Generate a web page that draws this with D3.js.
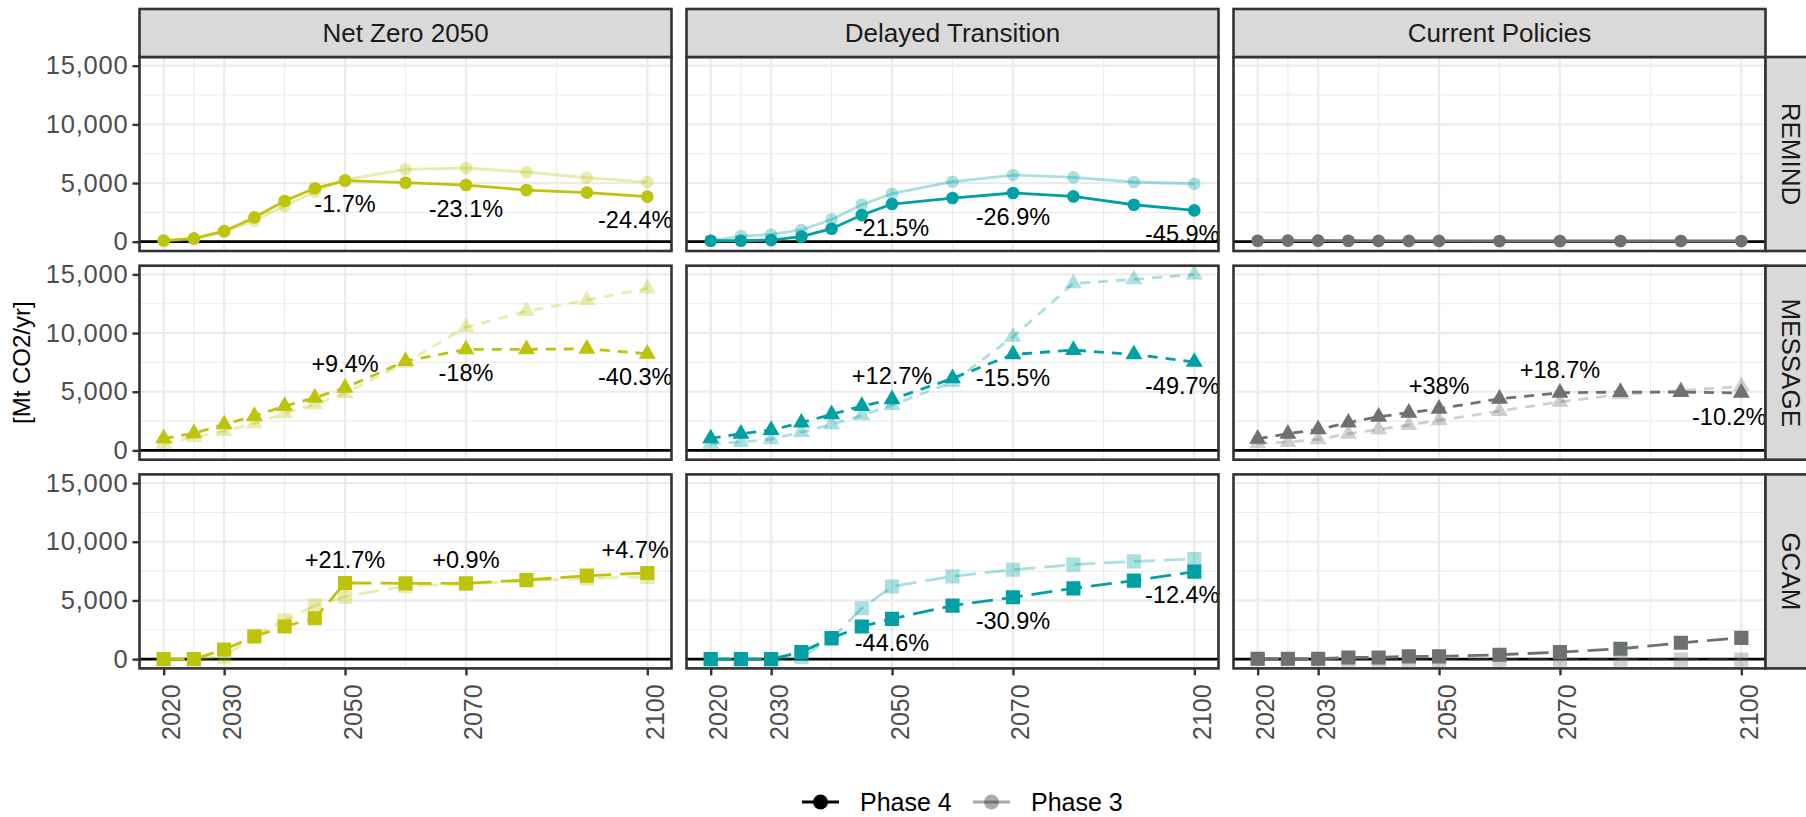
<!DOCTYPE html>
<html>
<head>
<meta charset="utf-8">
<script src="https://cdn.jsdelivr.net/npm/d3@7"></script>
<style>
  body { margin: 0; background: #fff; }
  svg { display: block; font-family: "Liberation Sans", Arial, Helvetica, sans-serif; }
</style>
</head>
<body>
<div id="chart"></div>
<script>
// ---- data ----
var years = [2020, 2025, 2030, 2035, 2040, 2045, 2050, 2060, 2070, 2080, 2090, 2100];
var scenarios = ["Net Zero 2050", "Delayed Transition", "Current Policies"];
var models = ["REMIND", "MESSAGE", "GCAM"];
var xTicks = [2020, 2030, 2050, 2070, 2100];
var yTicks = [0, 5000, 10000, 15000];
var labelYears = [2050, 2070, 2100];

// REMIND
var remindNZ4 = [100, 280, 900, 2070, 3470, 4550, 5200, 5030, 4830, 4400, 4180, 3840];
var remindNZ3 = [50, 200, 850, 1800, 3040, 4260, 5290, 6160, 6280, 5940, 5450, 5080];
var remindDT4 = [80, 80, 140, 430, 1110, 2270, 3210, 3720, 4150, 3860, 3150, 2670];
var remindDT3 = [80, 480, 620, 1000, 1900, 3150, 4090, 5110, 5680, 5480, 5090, 4940];
var remindCP4 = [80, 90, 90, 80, 70, 70, 70, 60, 60, 60, 60, 60];
var remindCP3 = [60, 70, 70, 60, 60, 50, 50, 50, 50, 50, 50, 50];
// MESSAGE
var messageNZ4 = [1020, 1450, 2220, 2930, 3780, 4490, 5340, 7610, 8610, 8610, 8660, 8240];
var messageNZ3 = [570, 1140, 1650, 2300, 3150, 3920, 4880, 7470, 10500, 11870, 12800, 13800];
var messageDT4 = [1020, 1420, 1730, 2360, 3070, 3780, 4350, 6140, 8180, 8550, 8180, 7540];
var messageDT3 = [570, 710, 940, 1560, 2220, 2980, 3860, 5820, 9680, 14230, 14570, 14990];
var messageCP4 = [990, 1420, 1790, 2360, 2870, 3210, 3550, 4400, 4910, 4970, 4970, 4900];
var messageCP3 = [600, 710, 940, 1420, 1790, 2160, 2570, 3350, 4140, 4770, 5100, 5450];
// GCAM
var gcamNZ4 = [0, 0, 820, 1930, 2780, 3480, 6490, 6460, 6460, 6740, 7110, 7340];
var gcamNZ3 = [0, 0, 200, 2000, 3280, 4560, 5330, 6230, 6400, 6680, 6880, 7010];
var gcamDT4 = [0, 0, 0, 600, 1790, 2780, 3430, 4560, 5270, 6030, 6690, 7450];
var gcamDT3 = [0, 0, 0, 170, 1730, 4330, 6190, 7050, 7620, 8050, 8330, 8530];
var gcamCP4 = [30, 30, 30, 140, 140, 230, 230, 370, 600, 880, 1390, 1810];
var gcamCP3 = [0, -20, -30, -40, -40, -40, -40, -40, -40, -40, -40, -40];

// change labels (Phase 4 vs Phase 3) at labelYears
var pctRemindNZ = ["-1.7%", "-23.1%", "-24.4%"];
var pctRemindDT = ["-21.5%", "-26.9%", "-45.9%"];
var pctMessageNZ = ["+9.4%", "-18%", "-40.3%"];
var pctMessageDT = ["+12.7%", "-15.5%", "-49.7%"];
var pctMessageCP = ["+38%", "+18.7%", "-10.2%"];
var pctGcamNZ = ["+21.7%", "+0.9%", "+4.7%"];
var pctGcamDT = ["-44.6%", "-30.9%", "-12.4%"];

var table = [
  {model: "REMIND", scen: "Net Zero 2050", p4: remindNZ4, p3: remindNZ3, pct: pctRemindNZ},
  {model: "REMIND", scen: "Delayed Transition", p4: remindDT4, p3: remindDT3, pct: pctRemindDT},
  {model: "REMIND", scen: "Current Policies", p4: remindCP4, p3: remindCP3, pct: []},
  {model: "MESSAGE", scen: "Net Zero 2050", p4: messageNZ4, p3: messageNZ3, pct: pctMessageNZ},
  {model: "MESSAGE", scen: "Delayed Transition", p4: messageDT4, p3: messageDT3, pct: pctMessageDT},
  {model: "MESSAGE", scen: "Current Policies", p4: messageCP4, p3: messageCP3, pct: pctMessageCP},
  {model: "GCAM", scen: "Net Zero 2050", p4: gcamNZ4, p3: gcamNZ3, pct: pctGcamNZ},
  {model: "GCAM", scen: "Delayed Transition", p4: gcamDT4, p3: gcamDT3, pct: pctGcamDT},
  {model: "GCAM", scen: "Current Policies", p4: gcamCP4, p3: gcamCP3, pct: []}
];

// ---- layout / styles ----
var W = 1806, H = 817;
var panelLeft = 139.5, colStep = 547, panelW = 532;
var panelTop = 57, rowStep = 208.7, panelH = 194;
var stripH = 48;
var scenColor = {"Net Zero 2050": "#BDC40B", "Delayed Transition": "#00A0A5", "Current Policies": "#6D7172"};
var modelDash = {"REMIND": null, "MESSAGE": "10,8", "GCAM": "21,9"};
var modelSymbol = {"REMIND": d3.symbolCircle, "MESSAGE": d3.symbolTriangle, "GCAM": d3.symbolSquare};
var modelSymbolSize = {"REMIND": 125, "MESSAGE": 125, "GCAM": 200};
var p3Opacity = 0.33;
var labelNudgeY = 2000;

function expand(e) { var r = e[1] - e[0]; return [e[0] - 0.05 * r, e[1] + 0.05 * r]; }

var svg = d3.select("#chart")
  .append("svg")
  .attr("width", W)
  .attr("height", H);

var xScale = d3.scaleLinear()
  .domain(expand(d3.extent(years)))
  .range([0, panelW]);

var allValues = d3.merge(table.map(function(d) { return d.p4.concat(d.p3); }));
var yScale = d3.scaleLinear()
  .domain(expand(d3.extent(allValues)))
  .range([panelH, 0]);

var xMinor = d3.pairs(xTicks).map(function(p) { return (p[0] + p[1]) / 2; });
var yMinor = d3.pairs(yTicks).map(function(p) { return (p[0] + p[1]) / 2; });

var line = d3.line()
  .x(function(d) { return xScale(d.year); })
  .y(function(d) { return yScale(d.v); });

function toPoints(arr) { return years.map(function(y, i) { return {year: y, v: arr[i]}; }); }

table.forEach(function(d, k) {
  var col = scenarios.indexOf(d.scen);
  var row = models.indexOf(d.model);
  var px = panelLeft + col * colStep;
  var py = panelTop + row * rowStep;
  var color = scenColor[d.scen];
  var g = svg.append("g").attr("transform", "translate(" + px + "," + py + ")");

  g.append("clipPath").attr("id", "clip" + k)
    .append("rect").attr("width", panelW).attr("height", panelH);
  var inner = g.append("g").attr("clip-path", "url(#clip" + k + ")");

  inner.append("rect").attr("width", panelW).attr("height", panelH).attr("fill", "#fff");

  // grid
  inner.selectAll(".vminor").data(xMinor).enter().append("line")
    .attr("x1", xScale).attr("x2", xScale).attr("y1", 0).attr("y2", panelH)
    .attr("stroke", "#EBEBEB").attr("stroke-width", 1.1);
  inner.selectAll(".hminor").data(yMinor).enter().append("line")
    .attr("y1", yScale).attr("y2", yScale).attr("x1", 0).attr("x2", panelW)
    .attr("stroke", "#EBEBEB").attr("stroke-width", 1.1);
  inner.selectAll(".vmajor").data(xTicks).enter().append("line")
    .attr("x1", xScale).attr("x2", xScale).attr("y1", 0).attr("y2", panelH)
    .attr("stroke", "#EBEBEB").attr("stroke-width", 2.2);
  inner.selectAll(".hmajor").data(yTicks).enter().append("line")
    .attr("y1", yScale).attr("y2", yScale).attr("x1", 0).attr("x2", panelW)
    .attr("stroke", "#EBEBEB").attr("stroke-width", 2.2);

  // zero line
  inner.append("line")
    .attr("x1", 0).attr("x2", panelW)
    .attr("y1", yScale(0)).attr("y2", yScale(0))
    .attr("stroke", "#000").attr("stroke-width", 2.7);

  var sym = d3.symbol().type(modelSymbol[d.model]).size(modelSymbolSize[d.model]);

  [{vals: d.p3, op: p3Opacity}, {vals: d.p4, op: 1}].forEach(function(s) {
    var pts = toPoints(s.vals);
    inner.append("path")
      .attr("d", line(pts))
      .attr("fill", "none")
      .attr("stroke", color)
      .attr("stroke-width", 2.8)
      .attr("stroke-dasharray", modelDash[d.model])
      .attr("opacity", s.op);
    inner.selectAll(null).data(pts).enter().append("path")
      .attr("d", sym)
      .attr("transform", function(p) { return "translate(" + xScale(p.year) + "," + yScale(p.v) + ")"; })
      .attr("fill", color)
      .attr("opacity", s.op);
  });

  // change labels
  d.pct.forEach(function(txt, i) {
    var yr = labelYears[i];
    var v = d.p4[years.indexOf(yr)];
    var sign = txt.charAt(0) === "+" ? 1 : -1;
    var lx = yr === 2100 ? yr - 2 : yr;
    inner.append("text")
      .attr("x", xScale(lx))
      .attr("y", yScale(v + sign * labelNudgeY))
      .attr("dy", "0.35em")
      .attr("text-anchor", "middle")
      .style("font-size", "23.5px")
      .attr("fill", "#000")
      .text(txt);
  });

  // border
  g.append("rect").attr("width", panelW).attr("height", panelH)
    .attr("fill", "none").attr("stroke", "#333").attr("stroke-width", 2.6);

  // top strip
  if (row === 0) {
    var st = svg.append("g").attr("transform", "translate(" + px + "," + (panelTop - stripH) + ")");
    st.append("rect").attr("width", panelW).attr("height", stripH)
      .attr("fill", "#D9D9D9").attr("stroke", "#333").attr("stroke-width", 2.6);
    st.append("text").attr("x", panelW / 2).attr("y", stripH / 2).attr("dy", "0.35em")
      .attr("text-anchor", "middle").style("font-size", "26px").attr("fill", "#1A1A1A")
      .text(d.scen);
  }
  // right strip
  if (col === scenarios.length - 1) {
    var sr = svg.append("g").attr("transform", "translate(" + (px + panelW) + "," + py + ")");
    sr.append("rect").attr("width", stripH).attr("height", panelH)
      .attr("fill", "#D9D9D9").attr("stroke", "#333").attr("stroke-width", 2.6);
    sr.append("text")
      .attr("transform", "translate(" + (stripH / 2 + 2) + "," + (panelH / 2) + ") rotate(90)")
      .attr("dy", "0.35em")
      .attr("text-anchor", "middle").style("font-size", "26px").attr("fill", "#1A1A1A")
      .text(d.model);
  }

  // y axis
  if (col === 0) {
    var ya = g.append("g")
      .call(d3.axisLeft(yScale).tickValues(yTicks).tickFormat(d3.format(",")).tickSize(7).tickPadding(4));
    ya.select(".domain").remove();
    ya.selectAll(".tick line").attr("stroke", "#333").attr("stroke-width", 2.4);
    ya.selectAll(".tick text").attr("fill", "#4D4D4D").style("font-size", "25.5px")
      .style("letter-spacing", "0.8px")
      .style("font-family", "'Liberation Sans', Arial, sans-serif");
  }
  // x axis
  if (row === models.length - 1) {
    var xa = g.append("g")
      .attr("transform", "translate(0," + panelH + ")")
      .call(d3.axisBottom(xScale).tickValues(xTicks).tickFormat(d3.format("d")).tickSize(7));
    xa.select(".domain").remove();
    xa.selectAll(".tick line").attr("stroke", "#333").attr("stroke-width", 2.4);
    xa.selectAll(".tick text")
      .attr("transform", "rotate(-90)")
      .attr("x", -16).attr("y", 0).attr("dy", "0.64em")
      .attr("text-anchor", "end")
      .attr("fill", "#4D4D4D").style("font-size", "25px")
      .style("font-family", "'Liberation Sans', Arial, sans-serif");
  }
});

// y axis title
svg.append("text")
  .attr("transform", "translate(22," + (panelTop + (2 * rowStep + panelH) / 2) + ") rotate(-90)")
  .attr("dy", "0.35em")
  .attr("text-anchor", "middle")
  .style("font-size", "24px")
  .attr("fill", "#000")
  .text("[Mt CO2/yr]");

// legend
var legendItems = [{name: "Phase 4", op: 1, x: 802}, {name: "Phase 3", op: 0.33, x: 973}];
var legY = 802;
legendItems.forEach(function(it) {
  var lg = svg.append("g").attr("transform", "translate(" + it.x + "," + legY + ")");
  lg.append("line").attr("x1", 0).attr("x2", 37).attr("y1", 0).attr("y2", 0)
    .attr("stroke", "#000").attr("stroke-width", 2.8).attr("opacity", it.op);
  lg.append("circle").attr("cx", 18.5).attr("cy", 0).attr("r", 7.5)
    .attr("fill", "#000").attr("opacity", it.op);
  lg.append("text").attr("x", 58).attr("y", 0).attr("dy", "0.35em")
    .style("font-size", "25px").attr("fill", "#000").text(it.name);
});
</script>
</body>
</html>
